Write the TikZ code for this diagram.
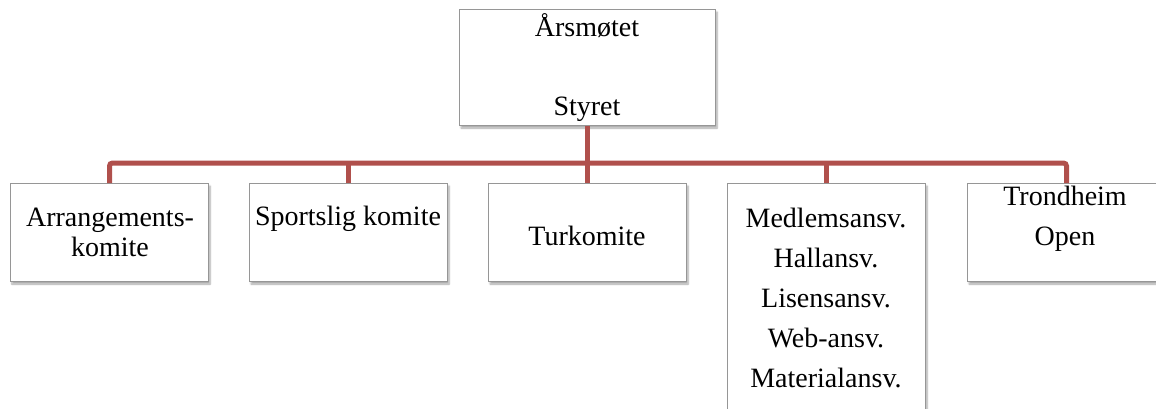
\documentclass[tikz,border=0pt]{standalone}
\usepackage{fontspec}
\setmainfont{Liberation Serif}
\usetikzlibrary{shadows.blur}
\definecolor{conncol}{RGB}{176,80,76}
\definecolor{boxline}{RGB}{150,150,150}
\begin{document}
\begin{tikzpicture}[x=1pt,y=-1pt,
  orgbox/.style={draw=boxline, line width=1pt, fill=white, inner sep=0pt, anchor=north west,
    blur shadow={shadow xshift=1.5pt, shadow yshift=-2.5pt, shadow blur steps=6, shadow opacity=35}},
  lbl/.style={font=\fontsize{28}{31}\selectfont, inner sep=0pt, anchor=base},
  conn/.style={draw=conncol, line width=5pt}]
\clip (0,0) rectangle (1156,409);
\useasboundingbox (0,0) rectangle (1156,409);
% boxes
\node[orgbox, minimum width=256pt, minimum height=116pt] (top) at (459,9) {};
\node[orgbox, minimum width=198pt, minimum height=98pt] (b1) at (10,183) {};
\node[orgbox, minimum width=198pt, minimum height=98pt] (b2) at (249,183) {};
\node[orgbox, minimum width=198pt, minimum height=98pt] (b3) at (488,183) {};
\node[orgbox, minimum width=198pt, minimum height=260pt] (b4) at (727,183) {};
\node[orgbox, minimum width=198pt, minimum height=98pt] (b5) at (967,183) {};
% connectors
\coordinate (bus) at (587,163);
\draw[conn] (top.south) -- (b3.north);
\draw[conn, rounded corners=3pt] (b1.north) -- (b1.north |- bus) -- (b5.north |- bus) -- (b5.north);
\draw[conn] (b2.north) -- (b2.north |- bus);
\draw[conn] (b4.north) -- (b4.north |- bus);
% labels
\node[lbl] (t1) at (587,37) {Årsmøtet};
\node[lbl] (t2) at (587,116) {Styret};
\node[lbl] (l1a) at (110,226) {Arrangements-};
\node[lbl] (l1b) at (110,256) {komite};
\node[lbl] (l2) at (348,225) {Sportslig komite};
\node[lbl] (l3) at (587,245) {Turkomite};
\node[lbl] (l4a) at (826,227) {Medlemsansv.};
\node[lbl] (l4b) at (826,267) {Hallansv.};
\node[lbl] (l4c) at (826,307) {Lisensansv.};
\node[lbl] (l4d) at (826,347) {Web-ansv.};
\node[lbl] (l4e) at (826,387) {Materialansv.};
\node[lbl] (l5a) at (1065,205) {Trondheim};
\node[lbl] (l5b) at (1065,245) {Open};
\end{tikzpicture}
\end{document}
